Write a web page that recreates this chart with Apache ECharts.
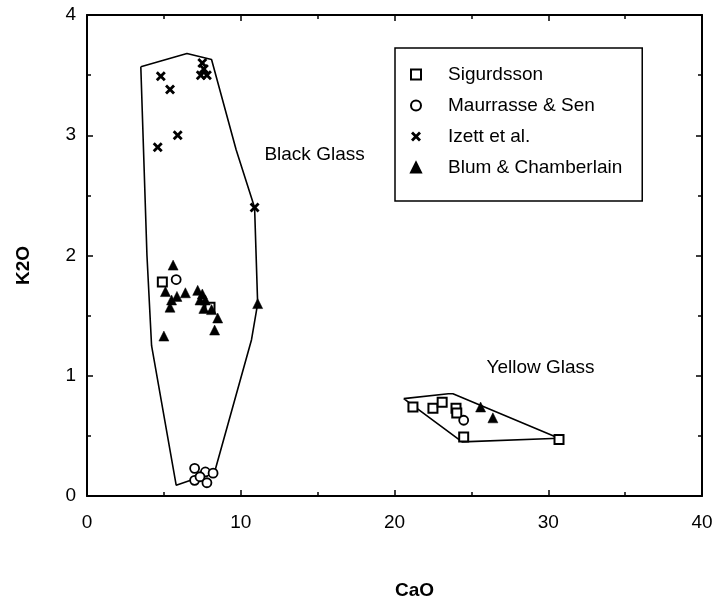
<!DOCTYPE html>
<html>
<head>
<meta charset="utf-8">
<script src="https://cdn.jsdelivr.net/npm/echarts@6/dist/echarts.min.js"></script>
<style>
  html, body { margin: 0; padding: 0; background: #fff; }
  #chart { width: 716px; height: 603px; }
</style>
</head>
<body>
<div id="chart"></div>
<script>
// data: [CaO, K2O]
const sigurdsson = [[4.9, 1.78], [8.0, 1.57], [21.2, 0.74], [22.5, 0.73], [23.1, 0.78], [24.0, 0.73], [24.05, 0.69], [24.5, 0.49], [30.7, 0.47]];
const maurrasse = [[5.8, 1.8], [7.0, 0.23], [7.7, 0.2], [8.2, 0.19], [7.0, 0.13], [7.35, 0.16], [7.8, 0.11], [24.5, 0.63]];
const izett = [[4.8, 3.49], [5.4, 3.38], [5.9, 3.0], [4.6, 2.9], [7.5, 3.6], [7.6, 3.55], [7.4, 3.5], [7.8, 3.5], [10.9, 2.4]];
const blum = [[5.6, 1.92], [5.1, 1.7], [5.5, 1.63], [5.85, 1.66], [6.4, 1.69], [5.4, 1.57], [5.0, 1.33],
  [7.2, 1.71], [7.5, 1.68], [7.7, 1.63], [7.35, 1.63], [7.6, 1.56], [8.1, 1.55], [8.5, 1.48], [8.3, 1.38],
  [11.1, 1.6], [25.6, 0.74], [26.4, 0.65]];

const blackOutline = [[3.5, 3.57], [6.5, 3.68], [8.1, 3.63], [9.7, 2.88], [10.9, 2.4], [11.1, 1.6], [10.7, 1.3],
  [8.3, 0.2], [5.8, 0.09], [4.2, 1.25], [3.9, 2.0], [3.5, 3.57]];
const yellowOutline = [[20.6, 0.81], [23.5, 0.85], [23.8, 0.85], [30.7, 0.48], [24.4, 0.45], [20.6, 0.81]];

const regionLabels = [{ name: 'Black Glass', value: [14.8, 2.84] }, { name: 'Yellow Glass', value: [29.5, 1.07] }];

const font = '"Liberation Sans", Arial, sans-serif';
const crossPath = 'path://M0,2L2,0L5,3L8,0L10,2L7,5L10,8L8,10L5,7L2,10L0,8L3,5Z';

const chart = echarts.init(document.getElementById('chart'));

function axisCommon(min, max, interval, showLabel) {
  return {
    type: 'value', min: min, max: max, interval: interval,
    axisLine: { show: true, onZero: false, lineStyle: { color: '#000', width: 2 } },
    axisTick: { show: true, inside: true, length: 6, lineStyle: { color: '#000', width: 1.5 } },
    minorTick: { show: true, splitNumber: 2, length: 4, lineStyle: { color: '#000', width: 1.5 } },
    splitLine: { show: false },
    axisLabel: { show: showLabel, color: '#000', fontSize: 19, fontFamily: font }
  };
}

const xBottom = axisCommon(0, 40, 10, true);
xBottom.position = 'bottom';
xBottom.axisLabel.margin = 17;
xBottom.name = 'CaO';
xBottom.nameLocation = 'middle';
xBottom.nameGap = 85;
xBottom.nameTextStyle = { color: '#000', fontSize: 19, fontWeight: 'bold', fontFamily: font, padding: [0, 0, 0, 40] };
const xTop = axisCommon(0, 40, 10, false);
xTop.position = 'top';

const yLeft = axisCommon(0, 4, 1, true);
yLeft.position = 'left';
yLeft.axisLabel.margin = 11;
yLeft.name = 'K2O';
yLeft.nameLocation = 'middle';
yLeft.nameGap = 54;
yLeft.nameTextStyle = { color: '#000', fontSize: 19, fontWeight: 'bold', fontFamily: font, padding: [0, 20, 0, 0] };
const yRight = axisCommon(0, 4, 1, false);
yRight.position = 'right';

const outline = (data) => ({
  type: 'line', data: data, symbol: 'none', silent: true,
  lineStyle: { color: '#000', width: 1.6 }, z: 1
});

chart.setOption({
  animation: false,
  backgroundColor: '#fff',
  grid: { left: 87, right: 14, top: 15, bottom: 107, outerBoundsMode: 'none' },
  xAxis: [xBottom, xTop],
  yAxis: [yLeft, yRight],
  legend: {
    orient: 'vertical', left: 395, top: 48,
    data: ['Sigurdsson', 'Maurrasse & Sen', 'Izett et al.', 'Blum & Chamberlain'],
    borderColor: '#000', borderWidth: 1.5, borderRadius: 0,
    padding: [17, 20, 24, 15], itemGap: 12, itemWidth: 10, itemHeight: 10,
    textStyle: { color: '#000', fontSize: 19, fontFamily: font, padding: [0, 0, 0, 22] }
  },
  series: [
    outline(blackOutline),
    outline(yellowOutline),
    {
      name: 'Sigurdsson', type: 'scatter', data: sigurdsson, symbol: 'rect', symbolSize: 9,
      itemStyle: { color: '#fff', borderColor: '#000', borderWidth: 2, opacity: 1 }, z: 3
    },
    {
      name: 'Maurrasse & Sen', type: 'scatter', data: maurrasse, symbol: 'circle', symbolSize: 9,
      itemStyle: { color: '#fff', borderColor: '#000', borderWidth: 1.8, opacity: 1 }, z: 3
    },
    {
      name: 'Izett et al.', type: 'scatter', data: izett, symbol: crossPath, symbolSize: 10,
      itemStyle: { color: '#000', opacity: 1 }, z: 3
    },
    {
      name: 'Blum & Chamberlain', type: 'scatter', data: blum, symbol: 'triangle', symbolSize: 10,
      itemStyle: { color: '#000', borderColor: '#000', borderWidth: 0.5, opacity: 1 }, z: 3
    },
    {
      type: 'scatter', data: regionLabels, symbolSize: 0, silent: true,
      itemStyle: { opacity: 1 },
      label: {
        show: true, position: 'inside', formatter: '{b}',
        color: '#000', fontSize: 19, fontFamily: font
      }
    }
  ]
});
</script>
</body>
</html>
